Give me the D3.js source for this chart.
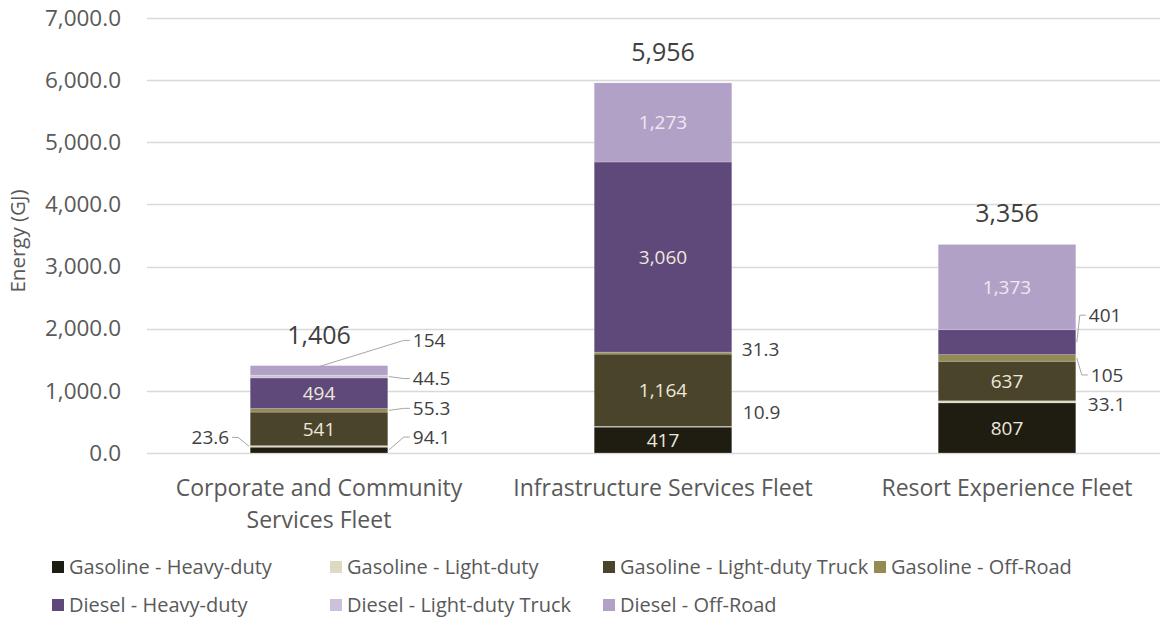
<!DOCTYPE html>
<html>
<head>
<meta charset="utf-8">
<script src="https://cdn.jsdelivr.net/npm/d3@7"></script>
<style>
  body { margin: 0; background: #fff; }
  svg { display: block; font-family: "Open Sans", sans-serif; }
</style>
</head>
<body>
<div id="chart"></div>
<script>
// categories and series (stack order, bottom to top)
const categories = ["Corporate and Community Services Fleet", "Infrastructure Services Fleet", "Resort Experience Fleet"];
const categoryLines = [["Corporate and Community", "Services Fleet"], ["Infrastructure Services Fleet"], ["Resort Experience Fleet"]];
const seriesNames = ["Gasoline - Heavy-duty", "Gasoline - Light-duty", "Gasoline - Light-duty Truck", "Gasoline - Off-Road",
  "Diesel - Heavy-duty", "Diesel - Light-duty Truck", "Diesel - Off-Road"];
const gasHeavy = [94.1, 417, 807];
const gasLight = [23.6, 10.9, 33.1];
const gasTruck = [541, 1164, 637];
const gasOffRoad = [55.3, 31.3, 105];
const dieselHeavy = [494, 3060, 401];
const dieselTruck = [44.5, 0, 0];
const dieselOffRoad = [154, 1273, 1373];
const yTicks = [0, 1000, 2000, 3000, 4000, 5000, 6000, 7000];

const colors = ["#1f1d12", "#ddd9c3", "#4a442a", "#948a54", "#5f497a", "#ccc1da", "#b2a1c7"];

const seriesValues = [gasHeavy, gasLight, gasTruck, gasOffRoad, dieselHeavy, dieselTruck, dieselOffRoad];
const table = categories.map((c, i) => {
  const row = { cat: c };
  seriesNames.forEach((s, j) => row[s] = seriesValues[j][i]);
  return row;
});

// labels for thin segments, placed outside the bar
// side: r/l, dx from bar edge, dy from segment middle, leader line or not
const outside = [
  { cat: 0, s: 6, side: "r", dx: 25, dy: -30, leader: "top" },
  { cat: 0, s: 5, side: "r", dx: 25, dy: 2, leader: "edge" },
  { cat: 0, s: 3, side: "r", dx: 25, dy: -2, leader: "edge" },
  { cat: 0, s: 0, side: "r", dx: 25, dy: -13, leader: "edge" },
  { cat: 0, s: 1, side: "l", dx: 21, dy: -9, leader: "edge" },
  { cat: 1, s: 1, side: "r", dx: 11, dy: -14, leader: null },
  { cat: 1, s: 3, side: "r", dx: 10, dy: -4, leader: null },
  { cat: 2, s: 4, side: "r", dx: 13, dy: -27, leader: "edge" },
  { cat: 2, s: 3, side: "r", dx: 15, dy: 17, leader: "edge" },
  { cat: 2, s: 1, side: "r", dx: 12, dy: 3, leader: null }
];

const width = 1166, height = 620;
const margin = { top: 18, right: 6, bottom: 167, left: 147 };

const svg = d3.select("#chart").append("svg")
  .attr("width", width)
  .attr("height", height);

const x = d3.scaleBand()
  .domain(categories)
  .range([margin.left, margin.left + 3 * 344])
  .paddingInner(0.6)
  .paddingOuter(0.3);

const y = d3.scaleLinear()
  .domain([0, 7000])
  .range([height - margin.bottom, margin.top]);

// gridlines
svg.append("g")
  .selectAll("line")
  .data(yTicks)
  .enter().append("line")
  .attr("x1", margin.left)
  .attr("x2", width - margin.right)
  .attr("y1", d => Math.round(y(d)) + 0.5)
  .attr("y2", d => Math.round(y(d)) + 0.5)
  .attr("stroke", "#d9d9d9")
  .attr("stroke-width", 1.3);

// y axis labels
const fmtTick = d3.format(",.1f");
svg.append("g")
  .attr("transform", `translate(${margin.left - 26},0)`)
  .call(d3.axisLeft(y).tickValues(yTicks).tickFormat(fmtTick).tickSize(0).tickPadding(0))
  .call(g => g.select(".domain").remove())
  .call(g => g.selectAll("text")
    .attr("fill", "#595959")
    .style("font-size", "22.5px")
    .style("font-family", "'Open Sans', sans-serif"));

svg.append("text")
  .attr("transform", `translate(25,241) rotate(-90)`)
  .attr("text-anchor", "middle")
  .attr("fill", "#595959")
  .style("font-size", "20.5px")
  .text("Energy (GJ)");

// stacked bars
const stack = d3.stack().keys(seriesNames);
const layers = stack(table);

svg.append("g")
  .selectAll("g")
  .data(layers)
  .enter().append("g")
  .attr("fill", (d, i) => colors[i])
  .selectAll("rect")
  .data(d => d)
  .enter().append("rect")
  .attr("x", d => x(d.data.cat))
  .attr("y", d => y(d[1]))
  .attr("width", x.bandwidth())
  .attr("height", d => Math.max(0, y(d[0]) - y(d[1])))
  .attr("stroke", "#fff")
  .attr("stroke-opacity", 0.35)
  .attr("stroke-width", 0.6);

// inside labels for tall segments
const fmtVal = v => v >= 100 ? d3.format(",.0f")(v) : d3.format(".1f")(v);
const inside = [];
layers.forEach((layer, si) => layer.forEach((d, ci) => {
  const v = d[1] - d[0];
  if (v <= 0) return;
  if (outside.some(o => o.cat === ci && o.s === si)) return;
  inside.push({ ci, si, v, mid: (d[0] + d[1]) / 2 });
}));

svg.append("g")
  .selectAll("text")
  .data(inside)
  .enter().append("text")
  .attr("x", d => x(categories[d.ci]) + x.bandwidth() / 2)
  .attr("y", d => y(d.mid))
  .attr("dy", "0.35em")
  .attr("text-anchor", "middle")
  .style("font-size", "19px")
  .attr("fill", d => d.si === 6 ? "#ede9f3" : "#ece8dc")
  .text(d => fmtVal(d.v));

// outside labels with leader lines
const og = svg.append("g");
outside.forEach(o => {
  const d = layers[o.s][o.cat];
  const mid = y((d[0] + d[1]) / 2);
  const x0 = x(categories[o.cat]);
  const right = x0 + x.bandwidth();
  const ly = mid + o.dy;
  const lx = o.side === "r" ? right + o.dx : x0 - o.dx;
  if (o.leader) {
    let pts;
    if (o.side === "r") {
      const start = o.leader === "top" ? [x0 + x.bandwidth() / 2, y(d[1]) + 1] : [right + 1, mid];
      pts = [start, [lx - 9, ly], [lx - 3, ly]];
    } else {
      pts = [[x0 - 1, mid], [lx + 9, ly], [lx + 3, ly]];
    }
    og.append("path")
      .attr("d", d3.line()(pts))
      .attr("fill", "none")
      .attr("stroke", "#a6a6a6")
      .attr("stroke-width", 1);
  }
  og.append("text")
    .attr("x", lx)
    .attr("y", ly)
    .attr("dy", "0.35em")
    .attr("text-anchor", o.side === "r" ? "start" : "end")
    .style("font-size", "19px")
    .attr("fill", "#404040")
    .text(fmtVal(d[1] - d[0]));
});

// totals
svg.append("g")
  .selectAll("text")
  .data(table)
  .enter().append("text")
  .attr("x", d => x(d.cat) + x.bandwidth() / 2)
  .attr("y", d => y(d3.sum(seriesNames, s => d[s])) - 22)
  .attr("text-anchor", "middle")
  .style("font-size", "25px")
  .attr("fill", "#404040")
  .text(d => d3.format(",.0f")(Math.floor(d3.sum(seriesNames, s => d[s]))));

// category labels
const cg = svg.append("g")
  .selectAll("text")
  .data(categories)
  .enter().append("text")
  .attr("x", d => x(d) + x.bandwidth() / 2)
  .attr("y", 496)
  .attr("text-anchor", "middle")
  .style("font-size", "23px")
  .attr("fill", "#595959");
cg.selectAll("tspan")
  .data((d, i) => categoryLines[i])
  .enter().append("tspan")
  .attr("x", function() { return d3.select(this.parentNode).attr("x"); })
  .attr("dy", (d, i) => i === 0 ? 0 : 32)
  .text(d => d);

// legend
const legendX = [52, 330, 603, 874];
const legend = svg.append("g")
  .selectAll("g")
  .data(seriesNames)
  .enter().append("g")
  .attr("transform", (d, i) => `translate(${legendX[i % 4]},${i < 4 ? 567 : 605})`);
legend.append("rect")
  .attr("x", 0)
  .attr("y", -6)
  .attr("width", 12)
  .attr("height", 12)
  .attr("fill", (d, i) => colors[i]);
legend.append("text")
  .attr("x", 17)
  .attr("dy", "0.35em")
  .style("font-size", "20px")
  .attr("fill", "#595959")
  .text(d => d);
</script>
</body>
</html>
